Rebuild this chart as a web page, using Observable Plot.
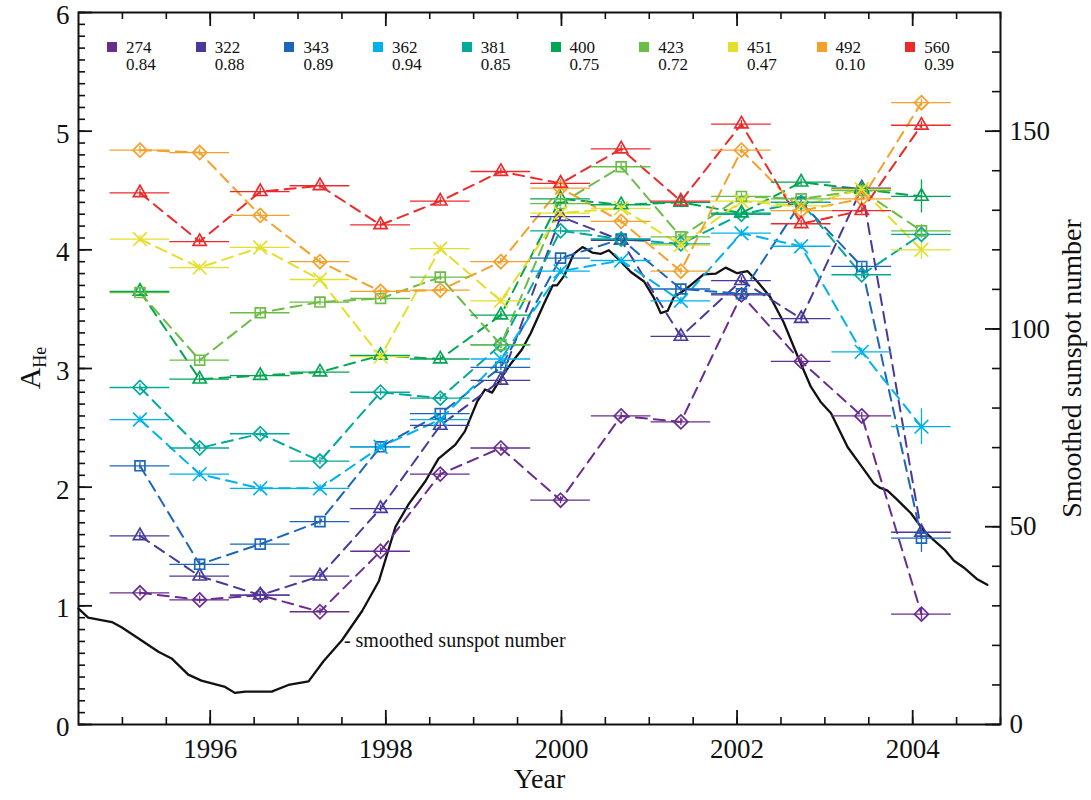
<!DOCTYPE html>
<html>
<head>
<meta charset="utf-8">
<script src="https://cdn.jsdelivr.net/npm/d3@7"></script>
<script src="https://cdn.jsdelivr.net/npm/@observablehq/plot@0.6"></script>
<style>
  body { margin: 0; background: #fff; }
  #wrap { position: relative; width: 1091px; height: 800px; font-family: "Liberation Serif", "Times New Roman", serif; }
  #legend { position: absolute; left: 107px; top: 39px; }
  .item { position: absolute; top: 0; }
  .sw { position: absolute; left: 0; top: 3px; width: 10px; height: 10px; }
  .ln { position: absolute; left: 19px; font-family: "Liberation Serif", serif; font-size: 17px; line-height: 17px; height: 17px; color: #111; white-space: nowrap; }
</style>
</head>
<body>
<div id="wrap"><div id="chart"></div><div id="legend"></div></div>
<script>
// ---- data ----
const times = [1995.20, 1995.88, 1996.57, 1997.25, 1997.94, 1998.62, 1999.31,
               1999.99, 2000.68, 2001.36, 2002.05, 2002.73, 2003.42, 2004.10];
const halfBin = 0.34;

const wavelengths  = ["274", "322", "343", "362", "381", "400", "423", "451", "492", "560"];
const correlations = ["0.84", "0.88", "0.89", "0.94", "0.85", "0.75", "0.72", "0.47", "0.10", "0.39"];

const a274 = [1.11, 1.05, 1.09, 0.95, 1.46, 2.11, 2.33, 1.89, 2.60, 2.55, 3.62, 3.06, 2.60, 0.93];
const a322 = [1.59, 1.25, 1.09, 1.25, 1.82, 2.52, 2.90, 4.28, 4.08, 3.27, 3.74, 3.42, 4.52, 1.62];
const a343 = [2.18, 1.35, 1.52, 1.71, 2.34, 2.62, 3.01, 3.93, 4.09, 3.67, 3.63, 4.40, 3.86, 1.57];
const a362 = [2.57, 2.11, 1.99, 1.99, 2.34, 2.57, 3.08, 3.82, 3.91, 3.57, 4.14, 4.03, 3.14, 2.51];
const a381 = [2.84, 2.33, 2.45, 2.22, 2.80, 2.75, 3.20, 4.16, 4.09, 4.05, 4.30, 4.40, 3.79, 4.13];
const a400 = [3.65, 2.91, 2.94, 2.97, 3.11, 3.08, 3.45, 4.43, 4.38, 4.40, 4.31, 4.57, 4.51, 4.45];
const a423 = [3.64, 3.07, 3.47, 3.56, 3.59, 3.77, 3.20, 4.39, 4.70, 4.11, 4.45, 4.43, 4.50, 4.16];
const a451 = [4.09, 3.85, 4.02, 3.75, 3.10, 4.01, 3.57, 4.31, 4.35, 4.04, 4.41, 4.37, 4.51, 4.00];
const a492 = [4.84, 4.82, 4.29, 3.90, 3.65, 3.66, 3.90, 4.52, 4.24, 3.82, 4.84, 4.33, 4.43, 5.24];
const a560 = [4.48, 4.07, 4.49, 4.54, 4.21, 4.41, 4.66, 4.56, 4.85, 4.41, 5.06, 4.22, 4.33, 5.05];
const seriesValues = [a274, a322, a343, a362, a381, a400, a423, a451, a492, a560];

const baseErr = 0.03;
const lastErr = [0.05, 0.03, 0.12, 0.15, 0.03, 0.14, 0.05, 0.08, 0.03, 0.03];

const ssnYears = [1994.50, 1994.61, 1994.88, 1994.99, 1995.18, 1995.41, 1995.56, 1995.75, 1995.90, 1996.17,
  1996.28, 1996.40, 1996.70, 1996.89, 1997.12, 1997.29, 1997.50, 1997.73, 1997.92, 1998.11,
  1998.26, 1998.45, 1998.60, 1998.79, 1998.90, 1999.04, 1999.13, 1999.21, 1999.32, 1999.43,
  1999.55, 1999.65, 1999.80, 1999.90, 1999.95, 2000.03, 2000.14, 2000.24, 2000.35, 2000.45,
  2000.54, 2000.67, 2000.79, 2000.94, 2001.05, 2001.13, 2001.21, 2001.28, 2001.43, 2001.62,
  2001.76, 2001.87, 2002.00, 2002.12, 2002.23, 2002.38, 2002.53, 2002.69, 2002.84, 2002.95,
  2003.07, 2003.26, 2003.41, 2003.56, 2003.63, 2003.71, 2003.82, 2003.98, 2004.13, 2004.24,
  2004.36, 2004.47, 2004.58, 2004.73, 2004.85];
const ssnValues = [29.3, 27.0, 25.9, 24.6, 21.8, 18.4, 16.7, 12.6, 11.1, 9.5,
  8.0, 8.3, 8.3, 10.0, 10.9, 16.0, 21.3, 28.7, 36.2, 50.0,
  55.7, 61.5, 67.2, 70.7, 74.1, 81.6, 84.7, 83.9, 87.9, 91.4,
  94.8, 98.9, 106.3, 111.0, 111.0, 113.4, 119.0, 120.7, 119.3, 119.0,
  119.9, 117.2, 114.4, 112.0, 108.0, 104.0, 104.6, 108.0, 110.3, 113.8,
  114.0, 115.5, 114.1, 114.6, 112.0, 108.0, 101.7, 93.1, 85.4, 81.6,
  78.7, 70.1, 65.5, 60.9, 59.8, 59.2, 56.9, 53.4, 48.9, 46.6,
  44.3, 41.4, 39.7, 36.8, 35.3];
const ssnLabel = "- smoothed sunspot number";
const ssnLabelIndex = 16;       // label hangs off the curve at this sample
const ssnPerA = 30;             // right-axis units per left-axis unit

const leftTicks = [0, 1, 2, 3, 4, 5, 6];
const leftMinor = d3.range(0, 61).map(i => i / 10);
const bottomTicks = [1996, 1998, 2000, 2002, 2004];
const bottomMinor = d3.range(1995, 2005.01, 0.5);
const rightTicks = [0, 50, 100, 150];
const rightMinor = d3.range(0, 180, 10);

// ---- styles ----
const colors = ["#6a2c8e", "#463a9b", "#1b66b8", "#00b1ec", "#00a99a", "#00a651", "#6cbd45", "#e4df2b", "#f5a02a", "#ec2a2c"];
const symbols = [d3.symbolDiamond2, d3.symbolTriangle2, d3.symbolSquare2, d3.symbolTimes];

// ---- build table ----
const rows = [];
wavelengths.forEach((w, s) => {
  seriesValues[s].forEach((a, i) => {
    rows.push({series: w, t: times[i], a, err: i === times.length - 1 ? lastErr[s] : baseErr});
  });
});
const ssn = ssnYears.map((y, i) => ({year: y, v: ssnValues[i]}));

const W = 1091, H = 800, mL = 78, mR = 91, mT = 12, mB = 76;
const fw = W - mL - mR, fh = H - mT - mB;
const font = "'Liberation Serif', 'Times New Roman', serif";

const chart = Plot.plot({
  width: W, height: H,
  marginLeft: mL, marginRight: mR, marginTop: mT, marginBottom: mB,
  style: {fontFamily: font, background: "white", overflow: "visible"},
  x: {domain: [1994.5, 2005.0], axis: null},
  y: {domain: [0, 6], axis: null},
  color: {domain: wavelengths, range: colors},
  symbol: {domain: wavelengths, range: wavelengths.map((w, i) => symbols[i % 4])},
  marks: [
    // axis ticks (inward)
    Plot.tickY(leftMinor, {y: d => d, insetRight: fw - 7, stroke: "#111", strokeWidth: 1.6}),
    Plot.tickY(leftTicks, {y: d => d, insetRight: fw - 14, stroke: "#111", strokeWidth: 1.8}),
    Plot.tickY(rightMinor, {y: d => d / ssnPerA, insetLeft: fw - 8, stroke: "#111", strokeWidth: 1.6}),
    Plot.tickY(rightTicks, {y: d => d / ssnPerA, insetLeft: fw - 15, stroke: "#111", strokeWidth: 1.8}),
    Plot.tickX(bottomMinor, {x: d => d, insetTop: fh - 7, stroke: "#111", strokeWidth: 1.6}),
    Plot.tickX(bottomTicks, {x: d => d, insetTop: fh - 14, stroke: "#111", strokeWidth: 1.8}),
    Plot.tickX(bottomMinor, {x: d => d, insetBottom: fh - 7, stroke: "#111", strokeWidth: 1.6}),
    Plot.tickX(bottomTicks, {x: d => d, insetBottom: fh - 14, stroke: "#111", strokeWidth: 1.8}),
    // tick labels
    Plot.text(leftTicks, {y: d => d, text: d => String(d), frameAnchor: "left", textAnchor: "end", dx: -9, dy: 3, fontSize: 27, fill: "#111"}),
    Plot.text(bottomTicks, {x: d => d, text: d => String(d), frameAnchor: "bottom", textAnchor: "middle", dy: 33, fontSize: 27, fill: "#111"}),
    Plot.text(rightTicks, {y: d => d / ssnPerA, text: d => String(d), frameAnchor: "right", textAnchor: "start", dx: 9, fontSize: 27, fill: "#111"}),
    // axis titles
    Plot.text(["Year"], {frameAnchor: "bottom", textAnchor: "middle", dy: 63, fontSize: 28, fill: "#111"}),
    Plot.text(["Smoothed sunspot number"], {frameAnchor: "right", textAnchor: "middle", rotate: -90, dx: 72, fontSize: 28, fill: "#111"}),
    // sunspot curve
    Plot.line(ssn, {x: "year", y: d => d.v / ssnPerA, stroke: "#111", strokeWidth: 2.3}),
    Plot.text([ssn[ssnLabelIndex]], {x: "year", y: d => d.v / ssnPerA, text: () => ssnLabel, textAnchor: "start", dx: 2, fontSize: 20, fill: "#111"}),
    // dashed series lines
    Plot.line(rows, {x: "t", y: "a", z: "series", stroke: "series", strokeWidth: 2, strokeDasharray: "11,7"}),
    // error bars
    Plot.ruleY(rows, {y: "a", x1: d => d.t - halfBin, x2: d => d.t + halfBin, stroke: "series", strokeWidth: 1.3}),
    Plot.ruleX(rows, {x: "t", y1: d => d.a - d.err, y2: d => d.a + d.err, stroke: "series", strokeWidth: 1.3}),
    // markers
    Plot.dot(rows, {x: "t", y: "a", symbol: "series", stroke: "series", fill: "none", r: 6.3, strokeWidth: 1.7}),
    Plot.frame({stroke: "#111", strokeWidth: 2})
  ]
});
document.getElementById("chart").appendChild(chart);

// y-axis title with subscript
const svg = d3.select(chart.tagName.toLowerCase() === "svg" ? chart : chart.querySelector("svg"));
const yt = svg.append("text")
  .attr("transform", `translate(40,${mT + fh / 2}) rotate(-90)`)
  .attr("text-anchor", "middle")
  .attr("font-family", font)
  .attr("fill", "#111");
yt.append("tspan").attr("font-size", 30).text("A");
yt.append("tspan").attr("font-size", 18).attr("dy", 6).text("He");

// legend
const leg = d3.select("#legend");
wavelengths.forEach((w, i) => {
  const it = leg.append("div").attr("class", "item").style("left", (i * 88.7) + "px");
  it.append("span").attr("class", "sw").style("background", colors[i]);
  it.append("div").attr("class", "ln").style("top", "0px").text(w);
  it.append("div").attr("class", "ln").style("top", "17px").text(correlations[i]);
});
</script>
</body>
</html>
